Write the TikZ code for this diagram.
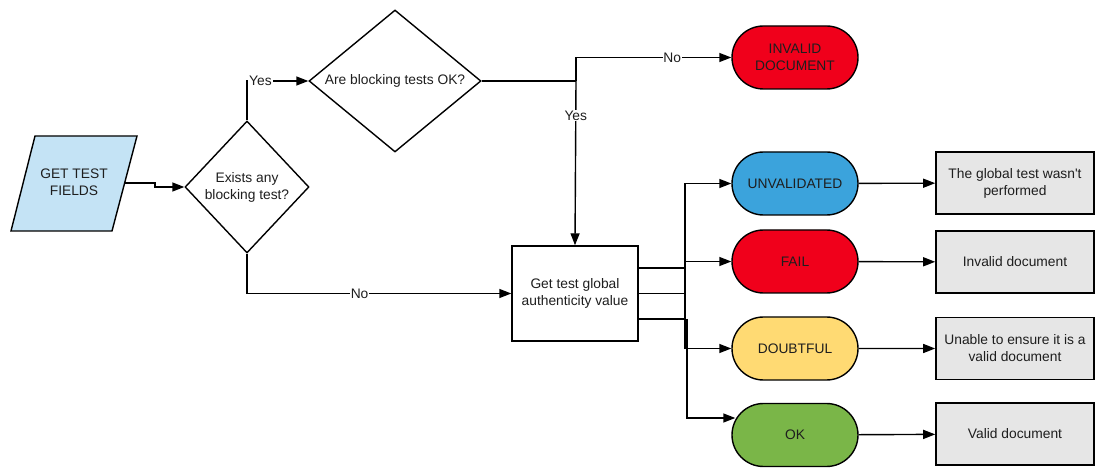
\documentclass[tikz,border=0pt]{standalone}
\usepackage{fontspec}
\setmainfont{Liberation Sans}
\usetikzlibrary{shapes.geometric,shapes.misc,arrows.meta,calc}
\definecolor{lblue}{HTML}{C4E3F5}
\definecolor{cblue}{HTML}{3BA3DC}
\definecolor{cred}{HTML}{F0001B}
\definecolor{cyellow}{HTML}{FFDA73}
\definecolor{cgreen}{HTML}{7AB648}
\definecolor{gbox}{HTML}{E6E6E6}
\definecolor{txt}{HTML}{1E1E1E}
\begin{document}
\begin{tikzpicture}[x=1pt,y=-1pt,
  every node/.style={font=\fontsize{13.8}{17}\selectfont, text=txt},
  ln/.style={line width=1.4pt, draw=black},
  arr/.style={ln, -{Triangle[length=12pt,width=9pt]}},
  decision/.style={diamond, draw, line width=1.4pt, inner sep=0pt, align=center, fill=white},
  term/.style={rounded rectangle, draw, line width=1.4pt, minimum width=126pt, minimum height=63pt, align=center, inner sep=0pt},
  procbox/.style={rectangle, draw, line width=1.4pt, fill=white, minimum width=126pt, minimum height=95pt, align=center, inner sep=0pt},
  outbox/.style={rectangle, draw, line width=1.6pt, fill=gbox, minimum width=158pt, minimum height=62pt, align=center, inner sep=0pt},
  lab/.style={fill=white, inner sep=0.8pt}
]
\useasboundingbox (0,0) rectangle (1096,473);

% input parallelogram
\draw[ln, fill=lblue] (35,136) -- (137,136) -- (112,231) -- (11,231) -- cycle;
\node[align=center] (src) at (74,182) {GET TEST\\FIELDS};
\coordinate (srcout) at (124.6,183);

% decisions
\node[decision, shape aspect=0.94, minimum width=124pt, minimum height=132pt] (d1) at (247,187) {Exists any\\blocking test?};
\node[decision, shape aspect=1.21, minimum width=172pt, minimum height=142pt] (d2) at (395,81) {Are blocking tests OK?};

% process
\node[procbox] (get) at (575,293.5) {Get test global\\authenticity value};

% terminals
\node[term, fill=cred] (inv) at (795,57.5) {INVALID\\DOCUMENT};
\node[term, fill=cblue] (unv) at (795,183.5) {UNVALIDATED};
\node[term, fill=cred] (fail) at (795,261.5) {FAIL};
\node[term, fill=cyellow] (dbt) at (795,348.5) {DOUBTFUL};
\node[term, fill=cgreen] (ok) at (795,435) {OK};

% result boxes
\node[outbox] (r1) at (1015,183) {The global test wasn\textquotesingle t\\performed};
\node[outbox] (r2) at (1015,262) {Invalid document};
\node[outbox] (r3) at (1015,348.5) {Unable to ensure it is a\\valid document};
\node[outbox] (r4) at (1015,434) {Valid document};

% connectors
\draw[arr] (srcout) -- ++(30.4,0) |- (d1.west);
\draw[arr] (d1.north) |- (d2.west);
\node[lab, anchor=west] at ([xshift=1.2pt]d1.north |- d2.west) {Yes};
\draw[arr] (d1.south) |- node[lab, pos=0.713] {No} (get.west);

\coordinate (j1) at (576,81);
\draw[ln] (d2.east) -- (j1);
\draw[arr] (j1) |- node[lab, pos=0.81] {No} (inv.west);
\draw[arr] (j1) -- node[lab, pos=0.21] {Yes} (get.north);

% bus
\coordinate (b1) at (685,268);
\coordinate (b2) at (685,293.5);
\coordinate (b3) at (685,319);
\draw[ln] ([yshift=25.5pt]get.east) -- (b1);
\draw[ln] (get.east) -- (b2);
\draw[ln] ([yshift=-25.5pt]get.east) -- (b3);
\draw[ln] (b1) -- (b3);
\draw[arr] (b1) |- (unv.west);
\draw[arr] (b2) |- (fail.west);
\draw[arr] (b3) |- (dbt.west);
\draw[arr] ([xshift=2pt]b3) |- ([xshift=4pt,yshift=17pt]ok.west);

\draw[arr] (unv) -- (r1);
\draw[arr] (fail) -- (r2);
\draw[arr] (dbt) -- (r3);
\draw[arr] (ok) -- (r4);
\end{tikzpicture}
\end{document}
